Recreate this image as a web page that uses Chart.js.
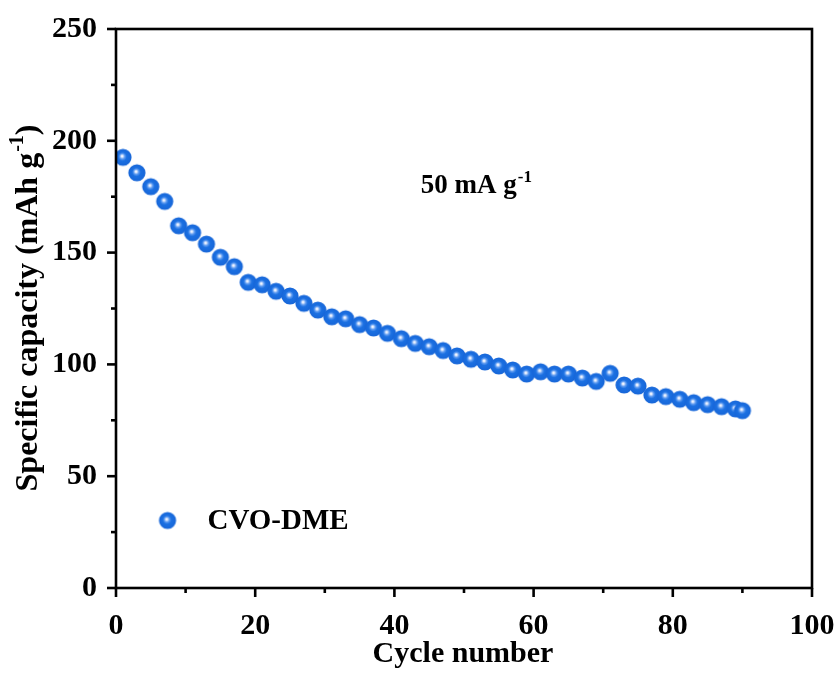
<!DOCTYPE html>
<html>
<head>
<meta charset="utf-8">
<script src="https://cdn.jsdelivr.net/npm/chart.js@4/dist/chart.umd.min.js"></script>
<style>
  html, body { margin: 0; padding: 0; background: #fff; }
  #wrap { width: 840px; height: 675px; }
</style>
</head>
<body>
<div id="wrap"><canvas id="c" width="840" height="675"></canvas></div>
<script>
// ---- data ----
const cycles = [1,3,5,7,9,11,13,15,17,19,21,23,25,27,29,31,33,35,37,39,41,43,45,47,49,51,53,55,57,59,61,63,65,67,69,71,73,75,77,79,81,83,85,87,89,90];
const capacity = [192.6,185.7,179.5,172.9,162.0,158.9,153.8,147.9,143.7,136.7,135.6,132.7,130.6,127.3,124.3,121.3,120.4,117.8,116.3,113.9,111.5,109.4,107.9,106.2,103.8,102.3,101.1,99.3,97.5,95.7,96.7,95.7,95.7,93.9,92.4,96.0,90.8,90.3,86.3,85.6,84.4,82.9,82.0,81.1,80.1,79.3];
const seriesName = "CVO-DME";
const xMajorTicks = [0,20,40,60,80,100];
const yMajorTicks = [0,50,100,150,200,250];
const xTitle = "Cycle number";
const yTitleMain = "Specific capacity (mAh g";
const yTitleSup = "-1";
const yTitleEnd = ")";
const noteMain = "50 mA g";
const noteSup = "-1";

// ---- sphere marker ----
function makeSphere(r) {
  const s = Math.ceil(r * 2) + 2;
  const cv = document.createElement('canvas');
  cv.width = s; cv.height = s;
  const g = cv.getContext('2d');
  const c = s / 2;
  const grad = g.createRadialGradient(c - 1.0, c - 1.4, 0, c, c, r);
  grad.addColorStop(0, '#ffffff');
  grad.addColorStop(0.1, '#e6efff');
  grad.addColorStop(0.3, '#5d9af0');
  grad.addColorStop(0.5, '#1b70e2');
  grad.addColorStop(1, '#1766d8');
  g.fillStyle = grad;
  g.beginPath(); g.arc(c, c, r, 0, Math.PI * 2); g.fill();
  return cv;
}
const sphere = makeSphere(8.6);

const FONT = "'Liberation Serif', 'Times New Roman', serif";

const axesPlugin = {
  id: 'axesDeco',
  afterDraw(chart) {
    const ctx = chart.ctx;
    const ca = chart.chartArea;
    const xs = chart.scales.x, ys = chart.scales.y;
    ctx.save();
    ctx.strokeStyle = '#000';
    ctx.lineWidth = 2.6;
    ctx.lineCap = 'butt';
    // ticks
    xs.ticks.forEach(t => {
      const px = xs.getPixelForValue(t.value);
      const len = xMajorTicks.includes(t.value) ? 9 : 5;
      ctx.beginPath(); ctx.moveTo(px, ca.bottom); ctx.lineTo(px, ca.bottom + len); ctx.stroke();
    });
    ys.ticks.forEach(t => {
      const py = ys.getPixelForValue(t.value);
      const len = yMajorTicks.includes(t.value) ? 9 : 5;
      ctx.beginPath(); ctx.moveTo(ca.left, py); ctx.lineTo(ca.left - len, py); ctx.stroke();
    });
    // box
    ctx.strokeRect(ca.left, ca.top, ca.right - ca.left, ca.bottom - ca.top);

    ctx.fillStyle = '#000';
    // x title
    ctx.font = "bold 30px " + FONT;
    ctx.textAlign = 'center';
    ctx.textBaseline = 'alphabetic';
    ctx.fillText(xTitle, (ca.left + ca.right) / 2 - 1, 662);

    // y title (rotated)
    ctx.save();
    ctx.translate(37, (ca.top + ca.bottom) / 2);
    ctx.rotate(-Math.PI / 2);
    ctx.textAlign = 'left';
    ctx.font = "bold 32px " + FONT;
    const w1 = ctx.measureText(yTitleMain).width;
    ctx.font = "bold 20px " + FONT;
    const w2 = ctx.measureText(yTitleSup).width;
    ctx.font = "bold 32px " + FONT;
    const w3 = ctx.measureText(yTitleEnd).width;
    let sx = -(w1 + w2 + w3) / 2;
    ctx.fillText(yTitleMain, sx, 0);
    ctx.font = "bold 20px " + FONT;
    ctx.fillText(yTitleSup, sx + w1 + 1, -14);
    ctx.font = "bold 32px " + FONT;
    ctx.fillText(yTitleEnd, sx + w1 + w2 + 1, 0);
    ctx.restore();

    // note "50 mA g-1"
    const nx = xs.getPixelForValue(43.8), ny = ys.getPixelForValue(176.7);
    ctx.textAlign = 'left';
    ctx.font = "bold 27px " + FONT;
    ctx.fillText(noteMain, nx, ny);
    const nw = ctx.measureText(noteMain).width;
    ctx.font = "bold 17px " + FONT;
    ctx.fillText(noteSup, nx + nw + 1, ny - 11);

    // legend
    const lx = xs.getPixelForValue(7.4), ly = ys.getPixelForValue(30.2);
    ctx.drawImage(sphere, lx - sphere.width / 2, ly - sphere.height / 2);
    ctx.font = "bold 29px " + FONT;
    ctx.textBaseline = 'middle';
    ctx.fillText(chart.data.datasets[0].label, lx + 40, ly + 1);
    ctx.restore();
  }
};

new Chart(document.getElementById('c'), {
  type: 'scatter',
  data: {
    datasets: [{
      label: seriesName,
      data: cycles.map((c, i) => ({ x: c, y: capacity[i] })),
      pointStyle: sphere,
      pointRadius: 8.6,
      pointHoverRadius: 8.6,
      showLine: false
    }]
  },
  options: {
    responsive: false,
    animation: false,
    devicePixelRatio: 1,
    layout: { padding: { left: 0, top: 29, right: 28, bottom: 0 } },
    plugins: { legend: { display: false }, tooltip: { enabled: false } },
    scales: {
      x: {
        type: 'linear', min: 0, max: 100,
        grid: { display: false, drawTicks: false },
        border: { display: false },
        ticks: {
          stepSize: 10, padding: 20, color: '#000', maxRotation: 0, autoSkip: false,
          font: { family: FONT, size: 30, weight: 'bold' },
          callback: v => xMajorTicks.includes(v) ? String(v) : ''
        },
        afterFit: s => { s.height = 87; s.paddingLeft = 0; s.paddingRight = 0; }
      },
      y: {
        type: 'linear', min: 0, max: 250,
        grid: { display: false, drawTicks: false },
        border: { display: false },
        ticks: {
          stepSize: 25, padding: 19, color: '#000', autoSkip: false,
          font: { family: FONT, size: 30, weight: 'bold' },
          callback: v => yMajorTicks.includes(v) ? String(v) : ''
        },
        afterFit: s => { s.width = 116; s.paddingTop = 0; s.paddingBottom = 0; }
      }
    }
  },
  plugins: [axesPlugin]
});
</script>
</body>
</html>
